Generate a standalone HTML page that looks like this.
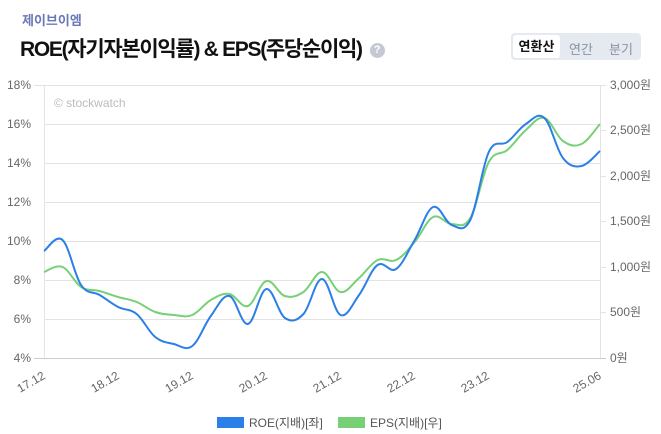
<!DOCTYPE html>
<html><head><meta charset="utf-8"><style>
body{margin:0;width:661px;height:434px;background:#fff;font-family:"Liberation Sans","Noto Sans CJK KR",sans-serif;position:relative;overflow:hidden}
.co{position:absolute;left:22px;top:10px;font-size:13px;font-weight:bold;color:#6b78b8}
.tt{position:absolute;left:20px;top:33px;font-size:21px;font-weight:bold;color:#111;letter-spacing:-1.3px}
.q{display:inline-block;width:15px;height:15px;border-radius:50%;background:#c5c9d3;color:#fff;font-size:11px;text-align:center;line-height:15px;vertical-align:3px;margin-left:8px;letter-spacing:0}
.tabs{position:absolute;left:511px;top:33px;width:130px;height:27px;background:#e5e9f0;border-radius:4px;font-size:13px;color:#8a93a6}
.tabs span{position:absolute;top:6px}
.tabs .on{left:2px;top:2px;width:47px;height:23px;background:#fff;border-radius:3px;color:#111;font-weight:bold;text-align:center;line-height:23px}
</style></head><body>
<div class="co">제이브이엠</div>
<div class="tt">ROE(자기자본이익률) &amp; EPS(주당순이익)<span class="q">?</span></div>
<div class="tabs"><span class="on">연환산</span><span style="left:58px">연간</span><span style="left:98px">분기</span></div>
<svg width="661" height="434" style="position:absolute;left:0;top:0" font-family="Liberation Sans,Noto Sans CJK KR,sans-serif">
<g stroke="#e3e3e3" stroke-width="1">
<line x1="34" x2="600" y1="85.5" y2="85.5"/><line x1="44" x2="600" y1="124.5" y2="124.5"/><line x1="44" x2="600" y1="163.5" y2="163.5"/><line x1="44" x2="600" y1="202.5" y2="202.5"/><line x1="44" x2="600" y1="241.5" y2="241.5"/><line x1="44" x2="600" y1="280.5" y2="280.5"/><line x1="44" x2="600" y1="319.5" y2="319.5"/>
<line x1="44.5" x2="44.5" y1="85" y2="358"/><line x1="600.5" x2="600.5" y1="85" y2="358"/>
<line x1="600" x2="606" y1="130.5" y2="130.5"/><line x1="600" x2="606" y1="176.5" y2="176.5"/><line x1="600" x2="606" y1="221.5" y2="221.5"/><line x1="600" x2="606" y1="267.5" y2="267.5"/><line x1="600" x2="606" y1="312.5" y2="312.5"/><line x1="600" x2="606" y1="85.5" y2="85.5"/>
</g>
<line x1="34" x2="606" y1="358.5" y2="358.5" stroke="#ccc"/>
<g font-size="12" fill="#666" text-anchor="end">
<text x="31" y="89">18%</text><text x="31" y="128">16%</text><text x="31" y="167">14%</text><text x="31" y="206">12%</text><text x="31" y="245">10%</text><text x="31" y="284">8%</text><text x="31" y="323">6%</text><text x="31" y="362">4%</text></g>
<g font-size="12" fill="#666">
<text x="610" y="89">3,000원</text><text x="610" y="134">2,500원</text><text x="610" y="180">2,000원</text><text x="610" y="225">1,500원</text><text x="610" y="271">1,000원</text><text x="610" y="316">500원</text><text x="610" y="362">0원</text></g>
<text x="54" y="107" font-size="12" fill="#bbb">© stockwatch</text>
<g font-size="12" fill="#666" text-anchor="end">
<text transform="translate(46,378) rotate(-30)">17.12</text>
<text transform="translate(120,378) rotate(-30)">18.12</text>
<text transform="translate(194,378) rotate(-30)">19.12</text>
<text transform="translate(268,378) rotate(-30)">20.12</text>
<text transform="translate(342,378) rotate(-30)">21.12</text>
<text transform="translate(416,378) rotate(-30)">22.12</text>
<text transform="translate(490,378) rotate(-30)">23.12</text>
<text transform="translate(602,378) rotate(-30)">25.06</text></g>
<path id="eps" fill="none" stroke="#77d076" stroke-width="2"/>
<path id="roe" fill="none" stroke="#2a7fe8" stroke-width="2"/>
<rect x="217" y="417" width="27" height="11" fill="#2a7fe8"/><text x="249" y="427" font-size="12" fill="#555">ROE(지배)[좌]</text>
<rect x="338" y="417" width="27" height="11" fill="#77d076"/><text x="370" y="427" font-size="12" fill="#555">EPS(지배)[우]</text>
</svg>
<script>
var R=[251,240,285,295,307,314,337,344,346,316,296,324,289,318,314,279,315,295,265,269,240,207,225,220,152,142,124,118,158,166,151];
var E=[272,267,287,291,297,302,312,315,315,300,294,306,281,296,292,272,292,278,260,260,242,217,224,218,162,150,130,118,141,144,124];
function p(a){var pts=a.map(function(y,i){return[44+i*556/30,y]});var d="M"+pts[0];for(var i=0;i<pts.length-1;i++){var p0=pts[i-1]||pts[i],p1=pts[i],p2=pts[i+1],p3=pts[i+2]||p2;var t=0.18;d+=" C"+(p1[0]+(p2[0]-p0[0])*t)+","+(p1[1]+(p2[1]-p0[1])*t)+" "+(p2[0]-(p3[0]-p1[0])*t)+","+(p2[1]-(p3[1]-p1[1])*t)+" "+p2;}return d;}
document.getElementById("roe").setAttribute("d",p(R));document.getElementById("eps").setAttribute("d",p(E));
</script>
</body></html>
